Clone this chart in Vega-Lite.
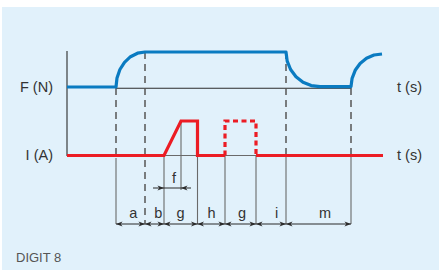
{
  "$schema": "https://vega.github.io/schema/vega-lite/v6.json",
  "width": 439,
  "height": 270,
  "autosize": {"type": "fit", "contains": "padding"},
  "padding": {"left": 2, "top": 7, "right": 0, "bottom": 0},
  "background": "#ffffff",
  "view": {"fill": "#e1f1fb", "stroke": null},
  "config": {"font": "Liberation Sans"},
  "datasets": {
    "rules": [
      {"x": 67, "x2": 67, "y": 51, "y2": 156, "k": "dark"},
      {"x": 116, "x2": 351, "y": 88.3, "y2": 88.3, "k": "dark"},
      {"x": 164, "x2": 256, "y": 155.5, "y2": 155.5, "k": "grey"},
      {"x": 116, "x2": 116, "y": 158, "y2": 224, "k": "grey"},
      {"x": 164, "x2": 164, "y": 155.5, "y2": 224, "k": "grey"},
      {"x": 181, "x2": 181, "y": 121, "y2": 190, "k": "grey"},
      {"x": 197.5, "x2": 197.5, "y": 155.5, "y2": 224, "k": "grey"},
      {"x": 225, "x2": 225, "y": 155.5, "y2": 224, "k": "grey"},
      {"x": 256, "x2": 256, "y": 155.5, "y2": 224, "k": "grey"},
      {"x": 286, "x2": 286, "y": 155.5, "y2": 224, "k": "grey"},
      {"x": 351, "x2": 351, "y": 155.5, "y2": 224, "k": "grey"},
      {"x": 116, "x2": 351, "y": 224, "y2": 224, "k": "dark"},
      {"x": 153, "x2": 191, "y": 188, "y2": 188, "k": "dark"}
    ],
    "dashes": [
      {"x": 116, "y": 88, "y2": 155},
      {"x": 145, "y": 52, "y2": 224},
      {"x": 286, "y": 52, "y2": 155},
      {"x": 351, "y": 88, "y2": 155}
    ],
    "force": [
      {"o": 1, "x": 67, "y": 87},
      {"o": 2, "x": 116, "y": 87},
      {"o": 3, "x": 117.0, "y": 77.9},
      {"o": 4, "x": 119.9, "y": 69.5},
      {"o": 5, "x": 124.5, "y": 62.3},
      {"o": 6, "x": 130.5, "y": 56.7},
      {"o": 7, "x": 137.5, "y": 53.2},
      {"o": 8, "x": 145, "y": 52},
      {"o": 9, "x": 286, "y": 52},
      {"o": 10, "x": 287.2, "y": 61.1},
      {"o": 11, "x": 290.6, "y": 69.5},
      {"o": 12, "x": 296.0, "y": 76.7},
      {"o": 13, "x": 303.0, "y": 82.3},
      {"o": 14, "x": 311.2, "y": 85.6},
      {"o": 15, "x": 320, "y": 86.6},
      {"o": 16, "x": 351, "y": 86.6},
      {"o": 17, "x": 352.1, "y": 78.3},
      {"o": 18, "x": 355.2, "y": 70.3},
      {"o": 19, "x": 360.1, "y": 63.5},
      {"o": 20, "x": 366.5, "y": 58.3},
      {"o": 21, "x": 374.0, "y": 55.0},
      {"o": 22, "x": 382, "y": 54}
    ],
    "current": [
      {"seg": "A", "o": 1, "x": 67, "y": 155.5},
      {"seg": "A", "o": 2, "x": 164, "y": 155.5},
      {"seg": "A", "o": 3, "x": 181, "y": 121},
      {"seg": "A", "o": 4, "x": 197.5, "y": 121},
      {"seg": "A", "o": 5, "x": 197.5, "y": 155.5},
      {"seg": "A", "o": 6, "x": 225, "y": 155.5},
      {"seg": "B", "o": 1, "x": 256, "y": 155.5},
      {"seg": "B", "o": 2, "x": 383, "y": 155.5}
    ],
    "currentDashed": [
      {"o": 1, "x": 225, "y": 155.5},
      {"o": 2, "x": 225, "y": 121},
      {"o": 3, "x": 256, "y": 121},
      {"o": 4, "x": 256, "y": 155.5}
    ],
    "arrows": [
      {"x": 116, "y": 224, "dir": "L"},
      {"x": 145, "y": 224, "dir": "R"},
      {"x": 145, "y": 224, "dir": "L"},
      {"x": 164, "y": 224, "dir": "R"},
      {"x": 164, "y": 224, "dir": "L"},
      {"x": 197.5, "y": 224, "dir": "R"},
      {"x": 197.5, "y": 224, "dir": "L"},
      {"x": 225, "y": 224, "dir": "R"},
      {"x": 225, "y": 224, "dir": "L"},
      {"x": 256, "y": 224, "dir": "R"},
      {"x": 256, "y": 224, "dir": "L"},
      {"x": 286, "y": 224, "dir": "R"},
      {"x": 286, "y": 224, "dir": "L"},
      {"x": 351, "y": 224, "dir": "R"},
      {"x": 164, "y": 188, "dir": "R"},
      {"x": 181, "y": 188, "dir": "L"}
    ],
    "axisLabels": [
      {"x": 53, "y": 92.3, "t": "F (N)"},
      {"x": 53, "y": 160, "t": "I (A)"}
    ],
    "timeLabels": [
      {"x": 397, "y": 92.3, "t": "t (s)"},
      {"x": 397, "y": 160, "t": "t (s)"}
    ],
    "segLabels": [
      {"x": 133.3, "y": 218.3, "t": "a"},
      {"x": 158.3, "y": 218.3, "t": "b"},
      {"x": 180.5, "y": 218.3, "t": "g"},
      {"x": 211.5, "y": 218.3, "t": "h"},
      {"x": 242, "y": 218.3, "t": "g"},
      {"x": 276.7, "y": 218.3, "t": "i"},
      {"x": 325, "y": 218.3, "t": "m"},
      {"x": 174, "y": 183, "t": "f"}
    ],
    "caption": [
      {"x": 16, "y": 261.7, "t": "DIGIT 8"}
    ]
  },
  "layer": [
    {
      "data": {"name": "rules"},
      "mark": {"type": "rule", "strokeWidth": 1.1},
      "encoding": {
        "x": {"field": "x", "type": "quantitative", "scale": {"domain": [2, 439], "nice": false, "zero": false}, "axis": null},
        "x2": {"field": "x2"},
        "y": {"field": "y", "type": "quantitative", "scale": {"domain": [7, 270], "reverse": true, "nice": false, "zero": false}, "axis": null},
        "y2": {"field": "y2"},
        "color": {"field": "k", "type": "nominal", "scale": {"domain": ["dark", "grey"], "range": ["#2b2b2b", "#6a6a6a"]}, "legend": null}
      }
    },
    {
      "data": {"name": "dashes"},
      "mark": {"type": "rule", "strokeWidth": 1.5, "strokeDash": [7, 5], "color": "#555555"},
      "encoding": {
        "x": {"field": "x", "type": "quantitative", "axis": null},
        "y": {"field": "y", "type": "quantitative", "axis": null},
        "y2": {"field": "y2"}
      }
    },
    {
      "data": {"name": "force"},
      "mark": {"type": "line", "strokeWidth": 3.2, "color": "#0a7bc1", "strokeJoin": "round"},
      "encoding": {
        "x": {"field": "x", "type": "quantitative", "axis": null},
        "y": {"field": "y", "type": "quantitative", "axis": null},
        "order": {"field": "o", "type": "quantitative"}
      }
    },
    {
      "data": {"name": "current"},
      "mark": {"type": "line", "strokeWidth": 3.2, "color": "#ec1c24", "strokeJoin": "miter"},
      "encoding": {
        "x": {"field": "x", "type": "quantitative", "axis": null},
        "y": {"field": "y", "type": "quantitative", "axis": null},
        "detail": {"field": "seg", "type": "nominal"},
        "order": {"field": "o", "type": "quantitative"}
      }
    },
    {
      "data": {"name": "currentDashed"},
      "mark": {"type": "line", "strokeWidth": 3.2, "color": "#ec1c24", "strokeDash": [5, 3.5], "strokeJoin": "miter"},
      "encoding": {
        "x": {"field": "x", "type": "quantitative", "axis": null},
        "y": {"field": "y", "type": "quantitative", "axis": null},
        "order": {"field": "o", "type": "quantitative"}
      }
    },
    {
      "data": {"name": "arrows"},
      "mark": {"type": "point", "filled": true, "opacity": 1, "color": "#2b2b2b", "size": 170},
      "encoding": {
        "x": {"field": "x", "type": "quantitative", "axis": null},
        "y": {"field": "y", "type": "quantitative", "axis": null},
        "shape": {"field": "dir", "type": "nominal", "scale": {"domain": ["R", "L"], "range": ["M0,0L-1,-0.4L-0.72,0L-1,0.4Z", "M0,0L1,-0.4L0.72,0L1,0.4Z"]}, "legend": null}
      }
    },
    {
      "data": {"name": "axisLabels"},
      "mark": {"type": "text", "align": "right", "baseline": "alphabetic", "fontSize": 14.5, "color": "#333333"},
      "encoding": {
        "x": {"field": "x", "type": "quantitative", "axis": null},
        "y": {"field": "y", "type": "quantitative", "axis": null},
        "text": {"field": "t"}
      }
    },
    {
      "data": {"name": "timeLabels"},
      "mark": {"type": "text", "align": "left", "baseline": "alphabetic", "fontSize": 14.5, "color": "#333333"},
      "encoding": {
        "x": {"field": "x", "type": "quantitative", "axis": null},
        "y": {"field": "y", "type": "quantitative", "axis": null},
        "text": {"field": "t"}
      }
    },
    {
      "data": {"name": "segLabels"},
      "mark": {"type": "text", "align": "center", "baseline": "alphabetic", "fontSize": 14.5, "color": "#333333"},
      "encoding": {
        "x": {"field": "x", "type": "quantitative", "axis": null},
        "y": {"field": "y", "type": "quantitative", "axis": null},
        "text": {"field": "t"}
      }
    },
    {
      "data": {"name": "caption"},
      "mark": {"type": "text", "align": "left", "baseline": "alphabetic", "fontSize": 13, "color": "#555555"},
      "encoding": {
        "x": {"field": "x", "type": "quantitative", "axis": null},
        "y": {"field": "y", "type": "quantitative", "axis": null},
        "text": {"field": "t"}
      }
    }
  ]
}
